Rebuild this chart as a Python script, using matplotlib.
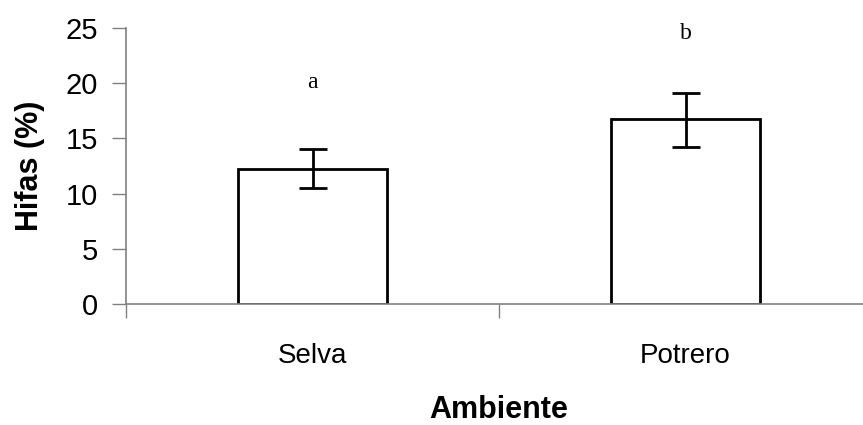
import matplotlib
matplotlib.use("Agg")
import matplotlib.pyplot as plt
import numpy as np

categories = ["Selva", "Potrero"]
means = [12.2, 16.8]
err_low = [10.55, 14.25]
err_high = [14.0, 19.1]
letters = ["a", "b"]
letter_y = [20.1, 24.5]
yticks = [0, 5, 10, 15, 20, 25]

plt.rcParams["font.family"] = ["Liberation Sans", "DejaVu Sans"]

fig = plt.figure(figsize=(8.63, 4.25), dpi=100)
ax = fig.add_axes([126/863, 121/425, 746/863, 276/425])

x = np.array([0.5, 1.5])
m = np.array(means)
yerr = np.vstack([m - np.array(err_low), np.array(err_high) - m])
ax.bar(x, m, width=0.40, color="white", edgecolor="black", linewidth=2, zorder=2)
ax.errorbar(x, m, yerr=yerr, fmt="none", ecolor="black", elinewidth=2,
            capsize=10, capthick=2, zorder=3)

for xi, lt, ly in zip(x, letters, letter_y):
    ax.text(xi, ly, lt, ha="center", va="center", fontsize=17,
            family=["Liberation Serif", "DejaVu Serif"])

ax.set_xlim(0, 2)
ax.set_ylim(0, 25)
ax.set_yticks(yticks)
ax.set_yticklabels([str(v) for v in yticks], fontsize=21)
ax.set_xticks([0, 1, 2])
ax.set_xticklabels([])
ax.set_xticks(x, minor=True)
ax.set_xticklabels(categories, minor=True, fontsize=20)
ax.tick_params(axis="x", which="minor", length=0, pad=28)
ax.tick_params(axis="x", which="major", length=10, width=1, color="#808080", direction="out")
ax.tick_params(axis="y", length=10, width=1, color="#808080", direction="out", pad=10)

for s in ["top", "right"]:
    ax.spines[s].set_visible(False)
for s in ["left", "bottom"]:
    ax.spines[s].set_color("#808080")
    ax.spines[s].set_linewidth(1.2)

ax.set_ylabel("Hifas (%)", fontsize=22, fontweight="bold", labelpad=15)
ax.set_xlabel("Ambiente", fontsize=22, fontweight="bold", labelpad=19)

fig.savefig("out.png", dpi=100)
